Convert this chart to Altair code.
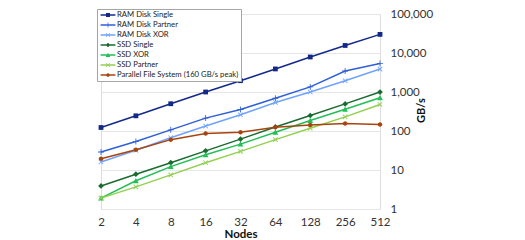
import altair as alt
import pandas as pd

nodes = ["2", "4", "8", "16", "32", "64", "128", "256", "512"]
series_names = [
    "RAM Disk Single",
    "RAM Disk Partner",
    "RAM Disk XOR",
    "SSD Single",
    "SSD XOR",
    "SSD Partner",
    "Parallel File System (160 GB/s peak)",
]
ram_single = [123, 245, 500, 1000, 1950, 3900, 7900, 15600, 30000]
ram_partner = [29, 54, 107, 214, 355, 690, 1350, 3460, 5360]
ram_xor = [16, 32, 67, 134, 260, 540, 1000, 1950, 3870]
ssd_single = [3.9, 7.8, 15.4, 31, 62, 127, 250, 495, 995]
ssd_xor = [1.9, 5.3, 12.2, 24.5, 46, 93, 185, 360, 713]
ssd_partner = [1.9, 3.7, 7.5, 15.4, 30, 60, 118, 230, 480]
pfs = [19.4, 33, 60, 86, 93, 125, 142, 155, 146]
all_values = [ram_single, ram_partner, ram_xor, ssd_single, ssd_xor, ssd_partner, pfs]

colors = ["#13298a", "#2f5fd8", "#70a2ff", "#1b6b2f", "#21bf55", "#92d050", "#a8450f"]

# marker shapes (unit coordinates, filled)
SQ = "M-0.8,-0.8H0.8V0.8H-0.8Z"
PLUS = "M-1,-0.14H1V0.14H-1Z M-0.14,-1H0.14V1H-0.14Z"
XS = "M-0.85,-0.64L-0.64,-0.85L0.85,0.64L0.64,0.85Z M0.64,-0.85L0.85,-0.64L-0.64,0.85L-0.85,0.64Z"
DIA = "M0,-0.95L0.95,0L0,0.95L-0.95,0Z"
TRI = "M0,-0.95L0.95,0.8H-0.95Z"
CIRC = "M-0.75,0A0.75,0.75 0 1,1 0.75,0A0.75,0.75 0 1,1 -0.75,0Z"
marker_paths = [SQ, PLUS, XS, DIA, TRI, XS, CIRC]


def scale_path(p, k):
    num = ""
    tokens = []
    for ch in p:
        if ch in "-0123456789.":
            if ch == "-" and num:
                tokens.append(num)
                num = ""
            num += ch
        else:
            if num:
                tokens.append(num)
                num = ""
            tokens.append(ch)
    if num:
        tokens.append(num)
    res = []
    cmd = None
    argi = 0
    for t in tokens:
        if t.isalpha():
            cmd = t
            argi = 0
            res.append(t)
        elif t in (",", " "):
            res.append(t)
        else:
            v = float(t)
            if cmd == "A" and (argi % 7) in (2, 3, 4):
                res.append(t)
            else:
                res.append(f"{v*k:.3f}")
            argi += 1
    return "".join(res)


LINE = "M-1.85,-0.16H1.85V0.16H-1.85Z"
legend_paths = [LINE + " " + scale_path(m, 0.62) for m in marker_paths]

rows = []
for name, vals in zip(series_names, all_values):
    for n, v in zip(nodes, vals):
        rows.append({"Nodes": n, "GBs": v, "series": name})
df = pd.DataFrame(rows)

x = alt.X(
    "Nodes:N",
    sort=nodes,
    scale=alt.Scale(type="point", padding=0),
    axis=alt.Axis(
        title="Nodes",
        labelAngle=0,
        grid=False,
        domain=False,
        ticks=False,
        labelPadding=7,
        labelFont="Lato",
        labelFontSize=11.5,
        labelColor="#333333",
        titleFont="Lato",
        titleFontSize=11.5,
        titleFontWeight="bold",
        titleColor="#111111",
        titleBaseline="alphabetic",
        titleY=28,
    ),
)
y = alt.Y(
    "GBs:Q",
    scale=alt.Scale(type="log", domain=[1, 100000]),
    axis=alt.Axis(
        orient="right",
        values=[1, 10, 100, 1000, 10000, 100000],
        format=",",
        grid=True,
        gridColor="#e6e6e6",
        gridWidth=1.2,
        domain=False,
        ticks=False,
        labelPadding=10,
        labelAlign="left",
        labelBaseline="middle",
        labelFont="Lato",
        labelFontSize=11.5,
        labelColor="#333333",
        title="GB/s",
        titleAngle=270,
        titleX=41,
        titleY=96,
        titleAlign="center",
        titleBaseline="middle",
        titleFont="Lato",
        titleFontSize=11,
        titleFontWeight="bold",
        titleColor="#111111",
    ),
)

lines = alt.Chart(df).mark_line(strokeWidth=1.5).encode(
    x=x,
    y=y,
    color=alt.Color("series:N", scale=alt.Scale(domain=series_names, range=colors), legend=None),
)
points = alt.Chart(df).mark_point(filled=True, opacity=1, size=36, strokeWidth=0).encode(
    x=x,
    y=y,
    color=alt.Color("series:N", scale=alt.Scale(domain=series_names, range=colors), legend=None),
    shape=alt.Shape("series:N", scale=alt.Scale(domain=series_names, range=marker_paths), legend=None),
)

leg = alt.Legend(
    title=None,
    orient="none",
    legendX=-4,
    legendY=-5,
    strokeColor="#a6a6a6",
    fillColor="white",
    padding=2,
    symbolSize=64,
    symbolOffset=5,
    symbolStrokeWidth=0,
    labelFont="Lato",
    labelFontSize=7.7,
    labelColor="#222222",
    labelOffset=5,
    labelLimit=300,
    rowPadding=2,
)
legend_layer = (
    alt.Chart(df)
    .transform_calculate(legend_series="datum.series")
    .transform_filter("datum.GBs < 0")
    .mark_point(filled=True, opacity=1, strokeWidth=0)
    .encode(
        x=x,
        y=y,
        color=alt.Color("legend_series:N", scale=alt.Scale(domain=series_names, range=colors), legend=leg),
        shape=alt.Shape("legend_series:N", scale=alt.Scale(domain=series_names, range=legend_paths), legend=leg),
    )
)

chart = (
    alt.layer(lines, points, legend_layer)
    .resolve_scale(color="independent", shape="independent")
    .properties(
        width=279,
        height=195,
        autosize=alt.AutoSizeParams(type="none"),
        padding={"left": 93, "top": 6, "right": 137, "bottom": 31},
    )
    .configure_view(stroke=None)
    .configure(background="white")
)

chart.save("out.html", embed_options={"renderer": "svg", "actions": False})
